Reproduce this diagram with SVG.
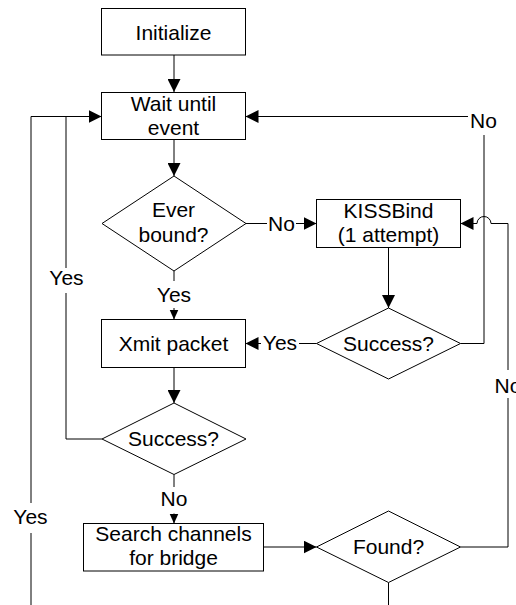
<svg xmlns="http://www.w3.org/2000/svg" width="516" height="605" viewBox="0 0 516 605">
<style>
.n{fill:#fff;stroke:#000;stroke-width:1}
.c{fill:none;stroke:#000;stroke-width:1}
text{font-family:"Liberation Sans",Arial,sans-serif;font-size:21px;fill:#000;text-anchor:middle}
</style>
<defs>
<marker id="a" markerUnits="userSpaceOnUse" markerWidth="13" markerHeight="13" refX="13" refY="6.5" orient="auto"><path d="M0,0 L13,6.5 L0,13 z" fill="#000"/></marker>
<marker id="s" markerUnits="userSpaceOnUse" markerWidth="10" markerHeight="10" refX="10" refY="4.5" orient="auto"><path d="M0,0 L10,4.5 L0,9 z" fill="#000"/></marker>
</defs>
<rect width="516" height="605" fill="#fff"/>
<g id="connectors">
<path class="c" d="M174,55 V92" marker-end="url(#a)"/>
<path class="c" d="M174,139.5 V176" marker-end="url(#a)"/>
<path class="c" d="M246,223.5 H267"/>
<path class="c" d="M296,223.5 H316.5" marker-end="url(#a)"/>
<text x="281.5" y="230.5">No</text>
<path class="c" d="M174,271 V281"/>
<path class="c" d="M174,308 V319.5" marker-end="url(#s)"/>
<text x="174" y="301.7">Yes</text>
<path class="c" d="M388.5,247.5 V308" marker-end="url(#a)"/>
<path class="c" d="M316.5,343.5 H299"/>
<text x="280" y="350">Yes</text>
<path class="c" d="M261,343.5 H245.5" marker-end="url(#a)"/>
<path class="c" d="M460.5,343.5 H484 V135"/>
<text x="483.5" y="127.5">No</text>
<path class="c" d="M468,116.5 H245.5" marker-end="url(#a)"/>
<path class="c" d="M174,367.5 V403" marker-end="url(#a)"/>
<path class="c" d="M102,439 H66 V293"/>
<text x="66.5" y="284.5">Yes</text>
<path class="c" d="M66,268 V116.5 H101.5" marker-end="url(#a)"/>
<path class="c" d="M174,474.5 V487"/>
<text x="174" y="506">No</text>
<path class="c" d="M174,513.5 V523.5" marker-end="url(#s)"/>
<path class="c" d="M263.5,547 H316.5" marker-end="url(#a)"/>
<path class="c" d="M460.5,547 H508 V398"/>
<text x="508" y="393">No</text>
<path class="c" d="M508,370 V223.5 H491 A7,7 0 0 0 477,223.5 H460.5" marker-end="url(#a)"/>
<path class="c" d="M388.5,582.5 V605"/>
<path class="c" d="M31,605 V533"/>
<text x="30.5" y="523.5">Yes</text>
<path class="c" d="M31,503 V116.5 H66"/>
</g>
<g id="initialize">
<rect class="n" x="101.5" y="8.5" width="144" height="46.5"/>
<text x="173.5" y="39.5">Initialize</text>
</g>
<g id="wait">
<rect class="n" x="101.5" y="92.5" width="144" height="47"/>
<text x="173.5" y="110.7">Wait until</text>
<text x="173.5" y="135">event</text>
</g>
<g id="ever-bound">
<polygon class="n" points="174,176 246,223.5 174,271 102,223.5"/>
<text x="173.5" y="217">Ever</text>
<text x="173.5" y="242">bound?</text>
</g>
<g id="kissbind">
<rect class="n" x="316.5" y="199.5" width="144" height="48"/>
<text x="388.5" y="217.5">KISSBind</text>
<text x="388.5" y="241.5">(1 attempt)</text>
</g>
<g id="success-bind">
<polygon class="n" points="388.5,308 460.5,343.5 388.5,379 316.5,343.5"/>
<text x="388.5" y="350.5">Success?</text>
</g>
<g id="xmit">
<rect class="n" x="101.5" y="319.5" width="144" height="48"/>
<text x="173.5" y="350.5">Xmit packet</text>
</g>
<g id="success-xmit">
<polygon class="n" points="174,403 246,439 174,474.5 102,439"/>
<text x="173.5" y="446">Success?</text>
</g>
<g id="search">
<rect class="n" x="83.5" y="523.5" width="180" height="47.5"/>
<text x="173.5" y="541">Search channels</text>
<text x="173.5" y="565">for bridge</text>
</g>
<g id="found">
<polygon class="n" points="388.5,511 460.5,547 388.5,582.5 316.5,547"/>
<text x="388.5" y="554">Found?</text>
</g>
</svg>
